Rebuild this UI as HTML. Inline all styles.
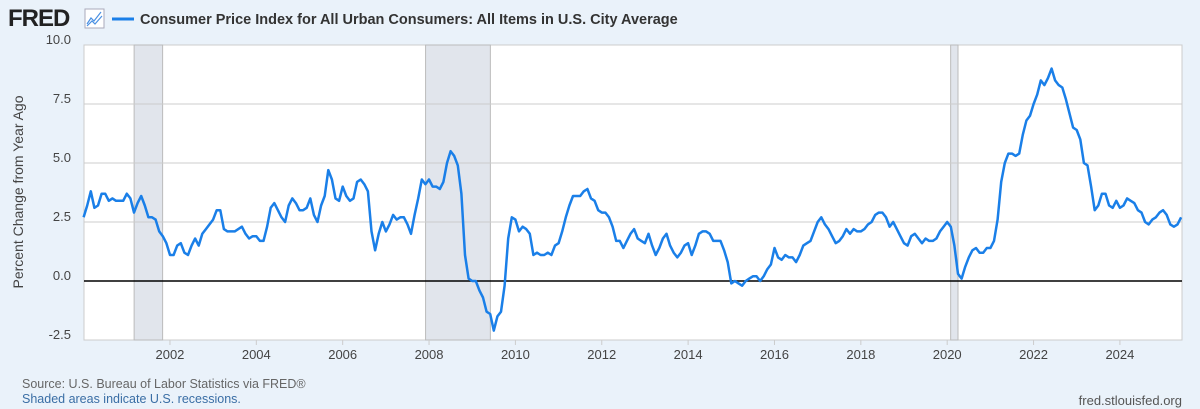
<!DOCTYPE html>
<html><head><meta charset="utf-8"><style>
body{margin:0;width:1200px;height:409px;background:#eaf2fa;font-family:"Liberation Sans",sans-serif;overflow:hidden}
svg{display:block}
</style></head><body>
<svg width="1200" height="409">
<text x="8" y="26" font-size="24" font-weight="bold" fill="#222" letter-spacing="-1">FRED</text>
<g><rect x="85" y="9" width="19" height="19" fill="#fff" stroke="#aab"/><polyline points="87,24 91,18 94,21 101,12" fill="none" stroke="#4a90e2" stroke-width="1.2"/><polyline points="87,26 92,21 95,24 102,16" fill="none" stroke="#4a90e2" stroke-width="1.2"/></g>
<line x1="112" y1="19" x2="134" y2="19" stroke="#1a7fe8" stroke-width="3"/>
<text x="140" y="24" font-size="14.5" fill="#333" font-weight="bold">Consumer Price Index for All Urban Consumers: All Items in U.S. City Average</text>
<rect x="84" y="45" width="1098" height="295" fill="#fff" stroke="#ccc"/>
<g id="rec"></g><g id="grid"></g><g id="xt"></g>
<line x1="84" y1="281" x2="1182" y2="281" stroke="#000" stroke-width="1.5"/>
<path id="line" fill="none" stroke="#1a7fe8" stroke-width="2.5" stroke-linejoin="round"/>
<text transform="translate(23,192) rotate(-90)" text-anchor="middle" font-size="14" fill="#444">Percent Change from Year Ago</text>
<text x="22" y="388" font-size="12.5" fill="#666">Source: U.S. Bureau of Labor Statistics via FRED®</text>
<text x="22" y="403" font-size="12.5" fill="#3a6ea5">Shaded areas indicate U.S. recessions.</text>
<text x="1182" y="405" font-size="13" fill="#555" text-anchor="end">fred.stlouisfed.org</text>
</svg>
<script>
const yTicks=[-2.5,0,2.5,5,7.5,10];
const yLabels=["-2.5","0.0","2.5","5.0","7.5","10.0"];
const xTicks=[2002,2004,2006,2008,2010,2012,2014,2016,2018,2020,2022,2024];
const recessionStart=[2001.17,2007.92,2020.08];
const recessionEnd=[2001.83,2009.42,2020.25];
const startYear=2000;
const cpiYoY=[
2.7,3.2,3.8,3.1,3.2,3.7,3.7,3.4,3.5,3.4,3.4,3.4,
3.7,3.5,2.9,3.3,3.6,3.2,2.7,2.7,2.6,2.1,1.9,1.6,
1.1,1.1,1.5,1.6,1.2,1.1,1.5,1.8,1.5,2.0,2.2,2.4,
2.6,3.0,3.0,2.2,2.1,2.1,2.1,2.2,2.3,2.0,1.8,1.9,
1.9,1.7,1.7,2.3,3.1,3.3,3.0,2.7,2.5,3.2,3.5,3.3,
3.0,3.0,3.1,3.5,2.8,2.5,3.2,3.6,4.7,4.3,3.5,3.4,
4.0,3.6,3.4,3.5,4.2,4.3,4.1,3.8,2.1,1.3,2.0,2.5,
2.1,2.4,2.8,2.6,2.7,2.7,2.4,2.0,2.8,3.5,4.3,4.1,
4.3,4.0,4.0,3.9,4.2,5.0,5.5,5.3,4.9,3.7,1.1,0.1,
0.0,0.0,-0.4,-0.7,-1.3,-1.4,-2.1,-1.5,-1.3,-0.2,1.8,2.7,
2.6,2.1,2.3,2.2,2.0,1.1,1.2,1.1,1.1,1.2,1.1,1.5,
1.6,2.1,2.7,3.2,3.6,3.6,3.6,3.8,3.9,3.5,3.4,3.0,
2.9,2.9,2.7,2.3,1.7,1.7,1.4,1.7,2.0,2.2,1.8,1.7,
1.6,2.0,1.5,1.1,1.4,1.8,2.0,1.5,1.2,1.0,1.2,1.5,
1.6,1.1,1.5,2.0,2.1,2.1,2.0,1.7,1.7,1.7,1.3,0.8,
-0.1,0.0,-0.1,-0.2,0.0,0.1,0.2,0.2,0.0,0.2,0.5,0.7,
1.4,1.0,0.9,1.1,1.0,1.0,0.8,1.1,1.5,1.6,1.7,2.1,
2.5,2.7,2.4,2.2,1.9,1.6,1.7,1.9,2.2,2.0,2.2,2.1,
2.1,2.2,2.4,2.5,2.8,2.9,2.9,2.7,2.3,2.5,2.2,1.9,
1.6,1.5,1.9,2.0,1.8,1.6,1.8,1.7,1.7,1.8,2.1,2.3,
2.5,2.3,1.5,0.3,0.1,0.6,1.0,1.3,1.4,1.2,1.2,1.4,
1.4,1.7,2.6,4.2,5.0,5.4,5.4,5.3,5.4,6.2,6.8,7.0,
7.5,7.9,8.5,8.3,8.6,9.0,8.5,8.3,8.2,7.7,7.1,6.5,
6.4,6.0,5.0,4.9,4.0,3.0,3.2,3.7,3.7,3.2,3.1,3.4,
3.1,3.2,3.5,3.4,3.3,3.0,2.9,2.5,2.4,2.6,2.7,2.9,
3.0,2.8,2.4,2.3,2.4,2.7];
const NS='http://www.w3.org/2000/svg';
const x=t=>83.6+(t-2000)*43.18;
const y=v=>281-v*23.6;
function mk(tag,attrs,parent,txt){const e=document.createElementNS(NS,tag);for(const k in attrs)e.setAttribute(k,attrs[k]);if(txt!=null)e.textContent=txt;document.getElementById(parent).appendChild(e);return e;}
recessionStart.forEach((s,i)=>{
const e=mk('rect',{x:x(s),y:45,width:x(recessionEnd[i])-x(s),height:295,fill:'#e1e5ec',stroke:'#bbb','stroke-width':1},'rec');


});
yTicks.forEach((v,i)=>{
if(v!==0&&v!==10&&v!==-2.5){const g=mk('line',{x1:84,x2:1182,y1:y(v),y2:y(v),stroke:'#ccc'},'grid');

}
const t=mk('text',{x:71,y:y(v)-1,'text-anchor':'end','font-size':13,fill:'#444'},'grid',yLabels[i]);


});
xTicks.forEach(v=>{
const l=mk('line',{x1:x(v),x2:x(v),y1:340,y2:345,stroke:'#ccc'},'xt');


const t=mk('text',{x:x(v),y:359,'text-anchor':'middle','font-size':13,fill:'#444'},'xt',String(v));


});
let d='';
cpiYoY.forEach((v,i)=>{d+=(i?'L':'M')+x(startYear+i/12).toFixed(1)+','+y(v).toFixed(1);});
document.getElementById('line').setAttribute('d',d);
</script>
</body></html>
